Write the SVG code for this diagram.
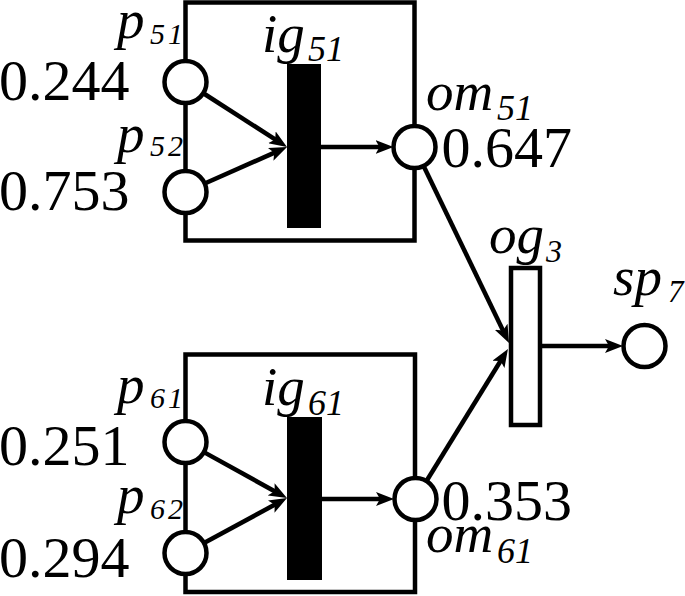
<svg xmlns="http://www.w3.org/2000/svg" width="685" height="596" viewBox="0 0 685 596">
<style>
.box{fill:none;stroke:#000;stroke-width:4.5}
.pl{fill:#fff;stroke:#000;stroke-width:4.5}
.bar{fill:#000}
.og{fill:#fff;stroke:#000;stroke-width:4.5}
.num{font-family:"Liberation Serif","Times New Roman",serif;font-size:58px;fill:#000}
.lab{font-family:"Liberation Serif","Times New Roman",serif;font-style:italic;font-size:55px;fill:#000}
.ps{font-size:30px}
.sub{font-size:36px}
.cn{stroke:#000;stroke-width:4.5;fill:none;marker-end:url(#ah)}
</style>
<defs>
<marker id="ah" viewBox="0 0 18 14" refX="8" refY="7" markerWidth="18" markerHeight="14" markerUnits="userSpaceOnUse" orient="auto">
<path d="M0,0 L18,7 L0,14 L4,7 z" fill="#000"/>
</marker>
</defs>
<g id="labels-p">
<text class="lab" x="117" y="38">p<tspan class="ps" x="150" y="44" textLength="33" lengthAdjust="spacing">51</tspan></text>
<text class="lab" x="117" y="152">p<tspan class="ps" x="150" y="156" textLength="33" lengthAdjust="spacing">52</tspan></text>
<text class="lab" x="117" y="403">p<tspan class="ps" x="150" y="408" textLength="33" lengthAdjust="spacing">61</tspan></text>
<text class="lab" x="117" y="513">p<tspan class="ps" x="150" y="519" textLength="33" lengthAdjust="spacing">62</tspan></text>
</g>
<g id="module5">
<rect class="box" x="185.5" y="2.5" width="229" height="238"/>
</g>
<g id="module6">
<rect class="box" x="185.5" y="354.5" width="229.5" height="237.5"/>
</g>
<g id="connectors">
<line class="cn" x1="203" y1="93" x2="278.6" y2="141.6"/>
<line class="cn" x1="204.7" y1="183.5" x2="277.9" y2="151.1"/>
<line class="cn" x1="321" y1="147" x2="383.5" y2="147"/>
<line class="cn" x1="423.6" y1="165.9" x2="504.7" y2="334"/>
<line class="cn" x1="426.5" y1="481" x2="502.7" y2="357.5"/>
<line class="cn" x1="542" y1="346" x2="613" y2="346"/>
<line class="cn" x1="203.9" y1="452.1" x2="278.2" y2="493.2"/>
<line class="cn" x1="204" y1="543" x2="278.2" y2="502.8"/>
<line class="cn" x1="322" y1="499" x2="384" y2="499"/>
</g>
<g id="p51">
<circle class="pl" cx="185.5" cy="82" r="21"/>
<text class="num" x="-1" y="100">0.244</text>
</g>
<g id="p52">
<circle class="pl" cx="185.5" cy="192" r="21"/>
<text class="num" x="-1" y="210">0.753</text>
</g>
<g id="ig51">
<rect class="bar" x="287" y="64" width="34" height="164"/>
<text class="lab" x="262" y="52">ig<tspan class="sub" x="308" y="61">51</tspan></text>
</g>
<g id="om51">
<circle class="pl" cx="414.5" cy="147" r="21"/>
<text class="lab" x="426" y="110">om<tspan class="sub" x="497" y="120">51</tspan></text>
<text class="num" x="441.5" y="167">0.647</text>
</g>
<g id="p61">
<circle class="pl" cx="185.5" cy="442" r="21"/>
<text class="num" x="-1" y="465">0.251</text>
</g>
<g id="p62">
<circle class="pl" cx="185.5" cy="553" r="21"/>
<text class="num" x="-1" y="577">0.294</text>
</g>
<g id="ig61">
<rect class="bar" x="287" y="417" width="35" height="163"/>
<text class="lab" x="262" y="405">ig<tspan class="sub" x="308" y="415">61</tspan></text>
</g>
<g id="om61">
<circle class="pl" cx="415.5" cy="499" r="21"/>
<text class="num" x="441.5" y="520">0.353</text>
<text class="lab" x="426" y="552">om<tspan class="sub" x="497" y="563">61</tspan></text>
</g>
<g id="og3">
<rect class="og" x="511" y="268" width="29" height="157"/>
<text class="lab" x="489" y="253">og<tspan style="font-size:32px" x="546" y="262">3</tspan></text>
</g>
<g id="sp7">
<circle class="pl" cx="644.5" cy="346" r="21"/>
<text class="lab" x="613" y="295">sp<tspan style="font-size:31px" x="668" y="302">7</tspan></text>
</g>
</svg>
